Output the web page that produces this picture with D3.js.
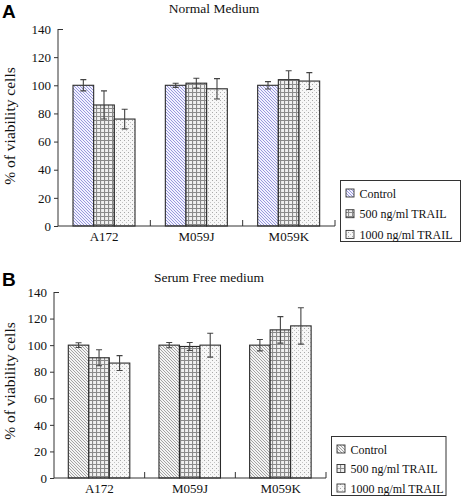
<!DOCTYPE html>
<html><head><meta charset="utf-8">
<script src="https://cdn.jsdelivr.net/npm/d3@7"></script>
<style>
html,body{margin:0;padding:0;background:#fff;}
svg{display:block;}
svg text{font-family:"Liberation Serif","Times New Roman",serif;}
</style></head>
<body>
<svg id="chart" width="462" height="498"></svg>
<script>
const categories = ["A172", "M059J", "M059K"];
const seriesNames = ["Control", "500 ng/ml TRAIL", "1000 ng/ml TRAIL"];
const yTicks = [0, 20, 40, 60, 80, 100, 120, 140];

// Panel A: Normal Medium
const normalValues = [
  [100, 100, 100],      // Control
  [86, 101.5, 104],     // 500 ng/ml
  [76, 97.5, 103]       // 1000 ng/ml
];
const normalErrors = [
  [4, 1.5, 2.6],
  [10, 3.5, 6.3],
  [7, 7.2, 6]
];
// Panel B: Serum Free medium
const serumValues = [
  [100, 100, 100],
  [90.5, 99, 111.5],
  [86.5, 100, 114.5]
];
const serumErrors = [
  [1.8, 2, 4.3],
  [6, 3, 10],
  [5.6, 9, 13.7]
];

const svg = d3.select("#chart");
const defs = svg.append("defs");

function hatch(id, color, bg) {
  const p = defs.append("pattern").attr("id", id).attr("patternUnits", "userSpaceOnUse")
    .attr("width", 3).attr("height", 3);
  p.append("rect").attr("width", 3).attr("height", 3).attr("fill", bg);
  p.append("path").attr("d", "M-1,-1 L4,4 M-1,2 L1,4 M2,-1 L4,1")
    .attr("stroke", color).attr("stroke-width", 0.9);
}
hatch("hatchBlue", "#8e8ed8", "#f2f2ff");
hatch("hatchGray", "#9a9a9a", "#f4f4f4");
{
  const p = defs.append("pattern").attr("id", "grid").attr("patternUnits", "userSpaceOnUse")
    .attr("width", 4).attr("height", 4);
  p.append("rect").attr("width", 4).attr("height", 4).attr("fill", "#f0f0f0");
  p.append("path").attr("d", "M0,0.5 H4 M0.5,0 V4").attr("stroke", "#8a8a8a").attr("stroke-width", 1.2);
}
{
  const p = defs.append("pattern").attr("id", "dots").attr("patternUnits", "userSpaceOnUse")
    .attr("width", 4).attr("height", 4);
  p.append("rect").attr("width", 4).attr("height", 4).attr("fill", "#f7f7f7");
  p.append("rect").attr("x", 0).attr("y", 0).attr("width", 1).attr("height", 1).attr("fill", "#a8a8a8");
  p.append("rect").attr("x", 2).attr("y", 2).attr("width", 1).attr("height", 1).attr("fill", "#c4c4c4");
}

function panel(cfg) {
  const g = svg.append("g");
  const x = d3.scaleBand().domain(categories).range([cfg.x0, cfg.x1]);
  const inner = d3.scaleBand().domain(seriesNames)
    .range([cfg.groupOffset, cfg.groupOffset + cfg.groupWidth]);
  const y = d3.scaleLinear().domain([0, 140]).range([cfg.y0, cfg.y1]);

  // Panel letter
  g.append("text").attr("x", 2).attr("y", cfg.letterY).text(cfg.letter)
    .style("font-family", "'Liberation Sans', Arial, sans-serif").attr("font-weight", "bold")
    .attr("font-size", 19).attr("fill", "#000");
  // Title
  g.append("text").attr("x", cfg.titleX).attr("y", cfg.titleY).attr("text-anchor", "middle")
    .attr("font-size", 13.5).attr("fill", "#111").text(cfg.title);
  // Y label
  g.append("text").attr("transform", `translate(${cfg.ylabX},${cfg.ylabY}) rotate(-90)`)
    .attr("text-anchor", "middle").attr("font-size", 15.5).attr("fill", "#111")
    .text("% of viability cells");

  // Bars
  seriesNames.forEach((s, si) => {
    categories.forEach((c, ci) => {
      const v = cfg.values[si][ci], e = cfg.errors[si][ci];
      const bx = x(c) + inner(s);
      g.append("rect").attr("x", bx).attr("y", y(v)).attr("width", inner.bandwidth())
        .attr("height", y(0) - y(v)).attr("fill", `url(#${cfg.fills[si]})`)
        .attr("stroke", "#2a2a2a").attr("stroke-width", 1.1);
      const cx = bx + inner.bandwidth() / 2;
      g.append("path").attr("d",
        `M${cx},${y(v + e)} V${y(v - e)} M${cx - 3},${y(v + e)} H${cx + 3} M${cx - 3},${y(v - e)} H${cx + 3}`)
        .attr("stroke", "#444").attr("stroke-width", 1.1).attr("fill", "none");
    });
  });

  // Y axis
  const ya = g.append("g").attr("transform", `translate(${cfg.x0},0)`)
    .call(d3.axisLeft(y).tickValues(yTicks).tickSize(4).tickPadding(3));
  ya.select(".domain").attr("stroke", "#333").attr("d", `M0,${cfg.y1}V${cfg.y0}`);
  ya.selectAll(".tick line").attr("stroke", "#333");
  ya.selectAll(".tick").filter(d => d === 140).select("line").attr("x2", 5);
  ya.selectAll(".tick text").attr("font-size", 13).attr("fill", "#111");

  // X axis
  const xa = g.append("g").attr("transform", `translate(0,${cfg.y0})`)
    .call(d3.axisBottom(x).tickSize(0).tickPadding(6));
  xa.select(".domain").attr("stroke", "#333").attr("d", `M${cfg.x0},0H${cfg.x1}`);
  xa.selectAll(".tick text").attr("font-size", 13).attr("fill", "#111");
  categories.forEach(c => {
    const bx = x(c) + x.bandwidth();
    xa.append("line").attr("x1", bx).attr("x2", bx).attr("y1", 0).attr("y2", -6).attr("stroke", "#333");
  });

  // Legend
  const lg = g.append("g");
  lg.append("rect").attr("x", cfg.legX).attr("y", cfg.legY).attr("width", cfg.legW).attr("height", cfg.legH)
    .attr("fill", "#fff").attr("stroke", "#333").attr("stroke-width", 1);
  seriesNames.forEach((s, si) => {
    const yy = cfg.legY + 13 + si * cfg.legStep;
    lg.append("rect").attr("x", cfg.legX + 5.5).attr("y", yy - 4.5).attr("width", 8).attr("height", 8)
      .attr("fill", `url(#${cfg.fills[si]})`).attr("stroke", "#333").attr("stroke-width", 0.9);
    lg.append("text").attr("x", cfg.legX + 19).attr("y", yy + 4).attr("font-size", 12).attr("fill", "#111").text(s);
  });
}

panel({
  letter: "A", letterY: 18, title: "Normal Medium", titleX: 214, titleY: 13,
  ylabX: 15, ylabY: 126,
  x0: 58, x1: 335, y0: 226, y1: 29, groupOffset: 15, groupWidth: 62,
  values: normalValues, errors: normalErrors,
  fills: ["hatchBlue", "grid", "dots"],
  legX: 340.5, legY: 180.5, legW: 120, legH: 61, legStep: 20.7
});
panel({
  letter: "B", letterY: 286, title: "Serum Free medium", titleX: 209, titleY: 282,
  ylabX: 15, ylabY: 381,
  x0: 54, x1: 326, y0: 478, y1: 292, groupOffset: 14.3, groupWidth: 61.5,
  values: serumValues, errors: serumErrors,
  fills: ["hatchGray", "grid", "dots"],
  legX: 331.5, legY: 436.5, legW: 114.5, legH: 59, legStep: 19.5
});
</script>
</body></html>
